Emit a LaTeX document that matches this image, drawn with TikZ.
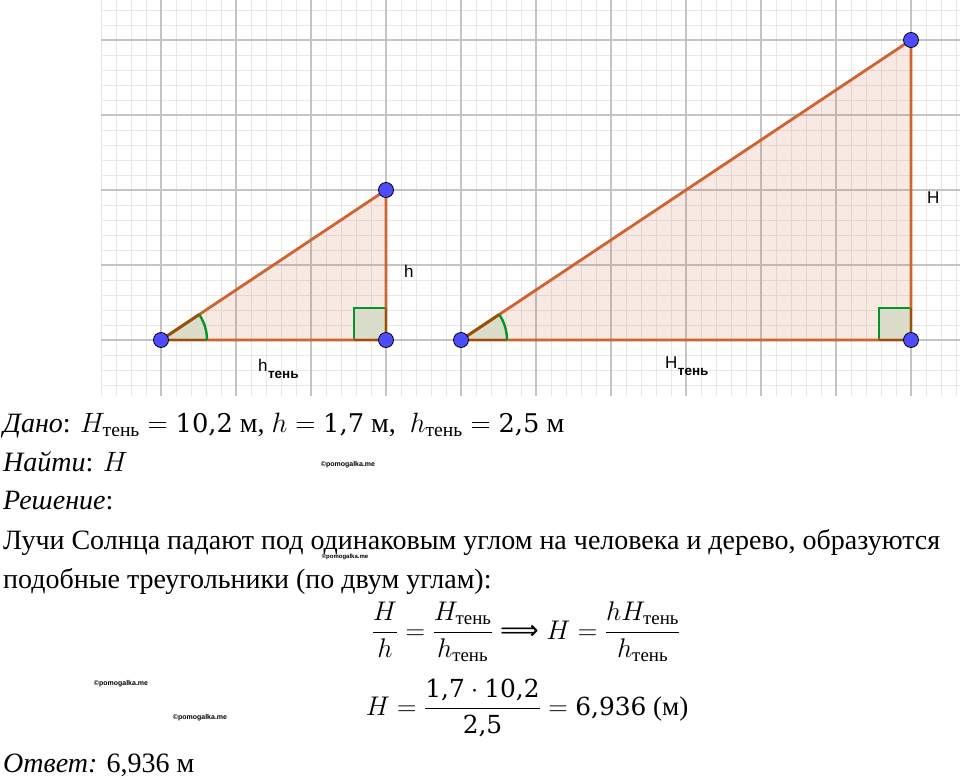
\RequirePackage{fix-cm}
\documentclass[tikz,border=0pt]{standalone}
\usepackage{fontspec}
\setmainfont{Liberation Serif}
\newfontfamily\lsans{Liberation Sans}
\newfontfamily\dser[Scale=0.92]{DejaVu Serif}
\newfontfamily\dsans{DejaVu Sans}
\usepackage{amsmath}
\newcommand{\dg}[1]{\text{\upshape\dser #1}}
\newcommand{\impl}{\mathrel{\text{\upshape\dsans ⟹}}}
\definecolor{edgec}{RGB}{207,100,50}
\definecolor{angfill}{RGB}{220,220,202}
\definecolor{arcgreen}{RGB}{0,150,40}
\definecolor{ptblue}{RGB}{77,77,255}
\definecolor{minorg}{RGB}{232,232,232}
\definecolor{majorg}{RGB}{196,196,196}
\definecolor{brownleg}{RGB}{150,80,10}
\tikzset{
  minorline/.style={minorg, line width=1pt},
  majorline/.style={majorg, line width=1.4pt},
  tri/.style={fill=edgec, fill opacity=0.14},
  edge/.style={edgec, line width=2.8pt},
  angsector/.style={fill=angfill},
  angarc/.style={arcgreen, line width=2.4pt},
  legover/.style={brownleg, line width=2.8pt},
  rtsq/.style={fill=angfill, draw=arcgreen, line width=2.4pt},
  pt/.style={circle, fill=ptblue, draw=black, line width=0.8pt, minimum size=15pt, inner sep=0pt},
  glabel/.style={font=\lsans\fontsize{17}{20}\selectfont, inner sep=0pt},
  gsub/.style={font=\lsans\bfseries\fontsize{13.5}{15}\selectfont, inner sep=0pt},
  txt/.style={anchor=base west, inner sep=0pt, font=\fontsize{28}{34}\selectfont},
  eqn/.style={inner sep=0pt, font=\fontsize{27}{32}\selectfont},
  wm/.style={font=\lsans\bfseries\fontsize{7}{8}\selectfont, inner sep=0pt}
}
\begin{document}
\begin{tikzpicture}[x=1pt,y=-1pt]
\useasboundingbox (0,0) rectangle (960,779);
\fill[white] (0,0) rectangle (960,779);
% grid
\foreach \gx in {101,116,...,960} \draw[minorline] (\gx,0) -- (\gx,396);
\foreach \gy in {10,25,...,396} \draw[minorline] (101,\gy) -- (960,\gy);
\foreach \gx in {161,236,...,960} \draw[majorline] (\gx,0) -- (\gx,396);
\foreach \gy in {40,115,...,396} \draw[majorline] (101,\gy) -- (960,\gy);
% coordinates
\coordinate (A) at (161,340);
\coordinate (B) at (386,340);
\coordinate (C) at (386,190);
\coordinate (D) at (461,340);
\coordinate (E) at (911,340);
\coordinate (F) at (911,40);
% fills
\fill[tri] (A) -- (B) -- (C) -- cycle;
\fill[tri] (D) -- (E) -- (F) -- cycle;
% angle sectors
\fill[angsector] (A) -- ++(46,0) arc[start angle=0,end angle=-33.69,radius=46] -- cycle;
\fill[angsector] (D) -- ++(46,0) arc[start angle=0,end angle=-33.69,radius=46] -- cycle;
% right angle squares
\filldraw[rtsq] (B) -- ++(-32,0) -- ++(0,-32) -- ++(32,0) -- cycle;
\filldraw[rtsq] (E) -- ++(-32,0) -- ++(0,-32) -- ++(32,0) -- cycle;
% edges
\draw[edge, line join=round] (A) -- (B) -- (C) -- cycle;
\draw[edge, line join=round] (D) -- (E) -- (F) -- cycle;
% leg overlays in angles
\draw[legover] (A) -- ++(46,0);
\draw[legover] (A) -- ++(38.27,-25.52);
\draw[legover] (D) -- ++(46,0);
\draw[legover] (D) -- ++(38.27,-25.52);
\draw[legover] (B) -- ++(-32,0);
\draw[legover] (B) -- ++(0,-32);
\draw[legover] (E) -- ++(-32,0);
\draw[legover] (E) -- ++(0,-32);
% arcs
\draw[angarc] (A) ++(46,0) arc[start angle=0,end angle=-33.69,radius=46];
\draw[angarc] (D) ++(46,0) arc[start angle=0,end angle=-33.69,radius=46];
% points
\node[pt] (pA) at (A) {};
\node[pt] (pB) at (B) {};
\node[pt] (pC) at (C) {};
\node[pt] (pD) at (D) {};
\node[pt] (pE) at (E) {};
\node[pt] (pF) at (F) {};
% graph labels
\node[glabel, anchor=base west] (lh) at (404,277) {h};
\node[glabel, anchor=base west] (lht) at (258,371) {h};
\node[gsub, anchor=base west] (lhts) at (lht.base east) [yshift=-7pt] {тень};
\node[glabel, anchor=base west] (lH) at (927,203) {H};
\node[glabel, anchor=base west] (lHt) at (665,368) {H};
\node[gsub, anchor=base west] (lHts) at (lHt.base east) [yshift=-7pt] {тень};
% text
\node[txt] (dano) at (3,432) {\textit{Дано}: $H_{\text{тень}} = \dg{10,2}$ м, $h = \dg{1,7}$ м, \ $h_{\text{тень}} = \dg{2,5}$ м};
\node[txt] (najti) at (3,471) {\textit{Найти}: $H$};
\node[txt] (resh) at (3,509) {\textit{Решение}:};
\node[txt] (l1) at (3,549) {Лучи Солнца падают под одинаковым углом на человека и дерево, образуются};
\node[txt] (l2) at (3,588) {подобные треугольники (по двум углам):};
\node[eqn] (eq1) at (526,632) {$\dfrac{H}{h} = \dfrac{H_{\text{тень}}}{h_{\text{тень}}} \impl H = \dfrac{hH_{\text{тень}}}{h_{\text{тень}}}$};
\node[eqn] (eq2) at (527,708) {$H = \dfrac{\dg{1,7}\cdot \dg{10,2}}{\dg{2,5}} = \dg{6,936}$ (м)};
\node[txt] (otv) at (3,772) {\textit{Ответ:} 6,936 м};
% watermarks
\node[wm] (w1) at (348,465) {©pomogalka.me};
\node[wm, font=\lsans\bfseries\fontsize{6}{7}\selectfont] (w2) at (345,557) {©pomogalka.me};
\node[wm] (w3) at (121,684) {©pomogalka.me};
\node[wm] (w4) at (200,718) {©pomogalka.me};
\end{tikzpicture}
\end{document}
